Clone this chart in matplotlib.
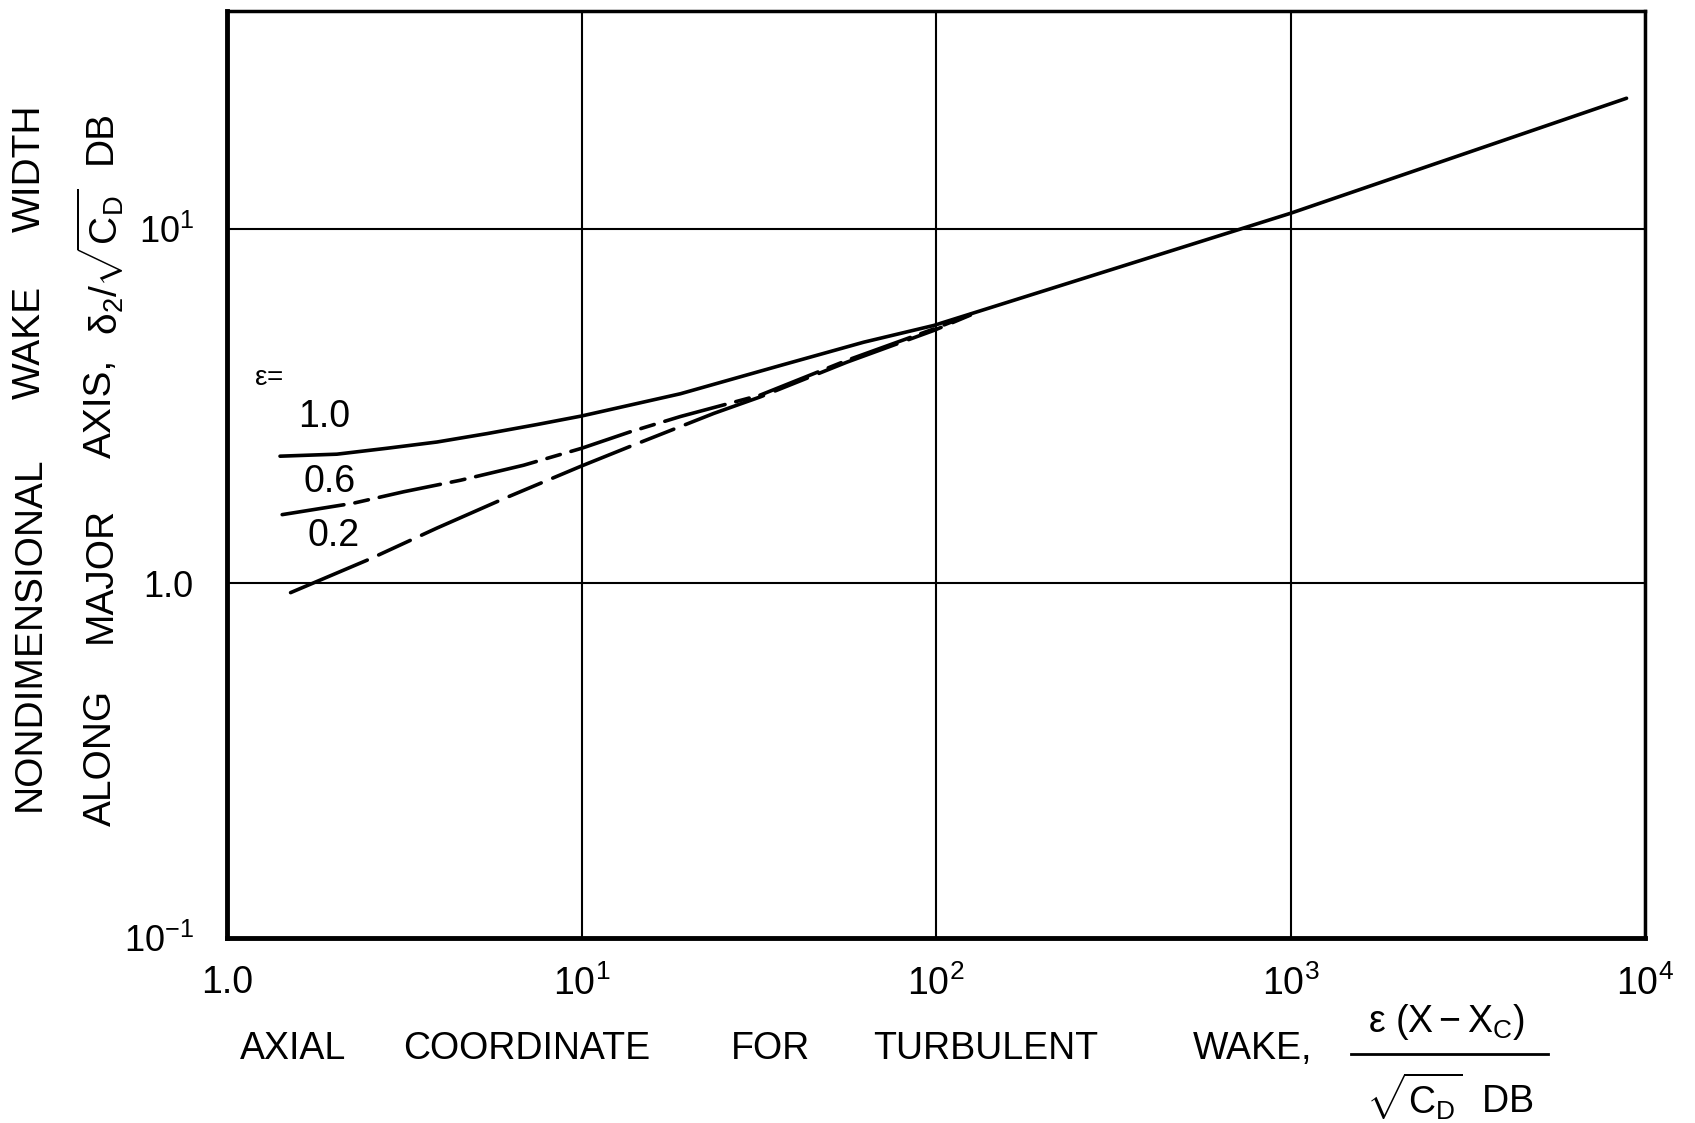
#Turbulent wake width along major axis vs axial coordinate

import matplotlib.pyplot as plt
from matplotlib.lines import Line2D

# values (log-log)
x_e10 = [1.41, 2.04, 2.82, 3.91, 5.41, 7.48, 10, 19.0, 36.4, 62.5, 98.6, 1000, 8870]
y_e10 = [2.28, 2.31, 2.40, 2.50, 2.64, 2.80, 2.96, 3.42, 4.11, 4.78, 5.33, 11.04, 23.3]

x_e06 = [1.43, 2.27, 3.15, 4.55, 6.86, 10, 13.7, 19.0, 31.9, 56.1, 98.6, 125]
y_e06 = [1.56, 1.68, 1.81, 1.95, 2.15, 2.40, 2.67, 2.95, 3.39, 4.25, 5.21, 5.72]

x_e02 = [1.51, 2.53, 3.91, 6.03, 10, 14.0, 23.6, 31.9, 56.1, 98.6, 125]
y_e02 = [0.94, 1.17, 1.43, 1.73, 2.14, 2.45, 3.01, 3.35, 4.20, 5.16, 5.70]

eps_labels = ['1.0', '0.6', '0.2']
xticks = [1, 10, 100, 1000, 10000]
xtick_labels = ['1.0', '$10^1$', '$10^2$', '$10^3$', '$10^4$']
yticks = [0.1, 1, 10]
ytick_labels = ['$10^{-1}$', '1.0', '$10^1$']

plt.rcParams['font.family'] = ['Liberation Sans', 'DejaVu Sans']
plt.rcParams['mathtext.fontset'] = 'custom'
plt.rcParams['mathtext.rm'] = 'Liberation Sans'
plt.rcParams['mathtext.it'] = 'Liberation Sans'
plt.rcParams['mathtext.bf'] = 'Liberation Sans:bold'
plt.rcParams['mathtext.default'] = 'regular'
plt.rcParams['lines.scale_dashes'] = False

fig = plt.figure(figsize=(16.95, 11.23), dpi=100)
ax = fig.add_axes([0.134, 0.165, 0.8365, 0.825])

ax.plot(x_e10, y_e10, color='black', linewidth=2.6, solid_capstyle='round')
ax.plot(x_e06, y_e06, color='black', linewidth=2.6,
        dashes=(45, 8, 10, 8), dash_capstyle='round')
ax.plot(x_e02, y_e02, color='black', linewidth=2.6,
        dashes=(60, 9, 25, 9), dash_capstyle='round')

ax.set_xscale('log')
ax.set_yscale('log')
ax.set_xlim(1, 10000)
ax.set_ylim(0.1, 41)
ax.minorticks_off()
ax.set_xticks(xticks)
ax.set_xticklabels(xtick_labels)
ax.set_yticks(yticks)
ax.set_yticklabels(ytick_labels)
ax.tick_params(length=0, labelsize=27, pad=20)
ax.tick_params(axis='y', labelsize=26, pad=24)
ax.grid(True, which='major', color='black', linewidth=1.5)

for s in ax.spines.values():
    s.set_linewidth(2.5)
ax.spines['left'].set_linewidth(3.5)
ax.spines['bottom'].set_linewidth(3.5)

# curve labels
ax.text(1.31, 3.78, r'$\varepsilon$=', fontsize=20, ha='center', va='center')
ax.text(1.88, 2.94, eps_labels[0], fontsize=27, ha='center', va='center')
ax.text(1.95, 1.93, eps_labels[1], fontsize=27, ha='center', va='center')
ax.text(1.99, 1.36, eps_labels[2], fontsize=27, ha='center', va='center')

# y axis title, two lettered lines
W, H = 1695, 1123
ylab1 = [('NONDIMENSIONAL', 634), ('WAKE', 342), ('WIDTH', 168)]
ylab2 = [('ALONG', 758), ('MAJOR', 575), ('AXIS,', 408),
         (r'$\delta_2/\sqrt{C_D}$', 262), ('DB', 137)]
for word, yy in ylab1:
    fig.text(30 / W, 1 - yy / H, word, rotation=90, fontsize=28,
             ha='center', va='center')
for word, yy in ylab2:
    fig.text(101 / W, 1 - yy / H, word, rotation=90, fontsize=28,
             ha='center', va='center')

# x axis title
xlab = [('AXIAL', 240), ('COORDINATE', 403), ('FOR', 731),
        ('TURBULENT', 873), ('WAKE,', 1193)]
for word, xx in xlab:
    fig.text(xx / W, 1 - 1049 / H, word, fontsize=27, ha='left', va='center')
fig.text(1446 / W, 1 - 1022 / H, r'$\varepsilon\ (X-X_C)$', fontsize=27,
         ha='center', va='center')
fig.add_artist(Line2D([1351 / W, 1548 / W], [1 - 1054 / H, 1 - 1054 / H],
                      color='black', linewidth=2))
fig.text(1450 / W, 1 - 1097 / H, r'$\sqrt{C_D}$  DB', fontsize=27,
         ha='center', va='center')

fig.savefig('out.png', dpi=100)
